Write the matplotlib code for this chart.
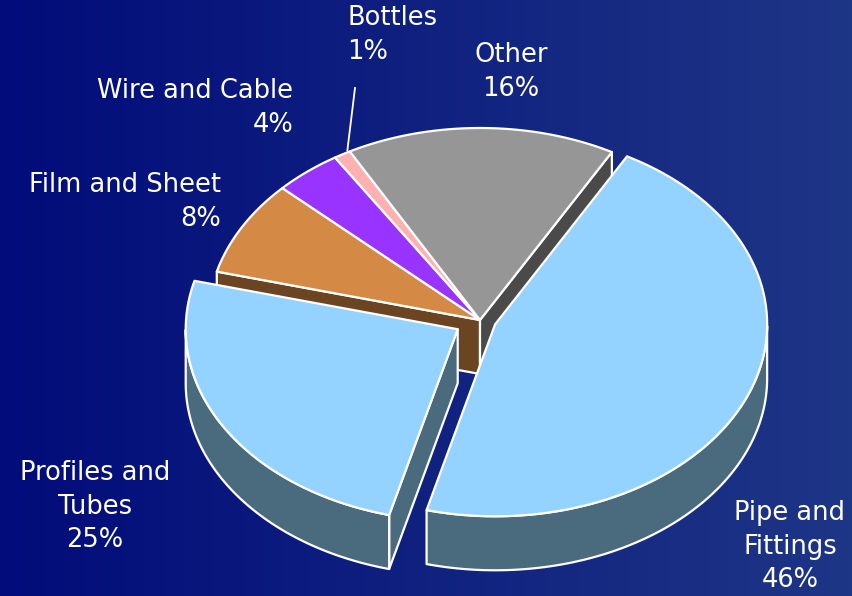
import numpy as np
import matplotlib.pyplot as plt
from matplotlib.patches import Polygon

# PVC end uses, share of consumption
labels = ["Pipe and\nFittings", "Profiles and\nTubes", "Film and Sheet",
          "Wire and Cable", "Bottles", "Other"]
shares = [46, 25, 8, 4, 1, 16]
top_colors = ["#94d2ff", "#94d2ff", "#d48a45", "#9933ff", "#ffb0b0", "#969696"]
side_colors = ["#4a6a7e", "#4a6a7e", "#6b4522", "#5a1f99", "#996a6a", "#4a4a4a"]
explode = [0.06, 0.095, 0, 0, 0, 0]

# label anchors: x, top y, alignment
label_pos = [(790, 500, "center"), (95, 460, "center"), (221, 172, "right"),
             (293, 78, "right"), (347, 5, "left"), (511, 42, "center")]

W, H = 852, 596
cx, cy = 480, 320      # pie centre (pixels)
rx, ry = 272, 192      # ellipse radii of the top face
depth = 54
start_angle = 61
edge_kw = dict(edgecolor="white", linewidth=1.6, joinstyle="round")

fig = plt.figure(figsize=(W / 100, H / 100), dpi=100)
ax = fig.add_axes([0, 0, 1, 1])
ax.set_xlim(0, W)
ax.set_ylim(H, 0)
ax.axis("off")

# navy gradient background, darker on the left
left = np.array([2, 12, 122]) / 255
right = np.array([30, 54, 134]) / 255
t = np.linspace(0, 1, 256)
grad = (left[None, :] * (1 - t[:, None]) + right[None, :] * t[:, None])[None, :, :]
ax.imshow(grad, extent=[0, W, H, 0], aspect="auto", zorder=0)


def rim(c, ang):
    r = np.radians(ang)
    return np.column_stack([c[0] + rx * np.cos(r), c[1] - ry * np.sin(r)])


def down(pts):
    return pts + np.array([0, depth])


# slice angles, going clockwise from start_angle
bounds = start_angle - 3.6 * np.concatenate([[0], np.cumsum(shares)])
slices = []
for i in range(len(shares)):
    t1, t0 = bounds[i], bounds[i + 1]
    mid = np.radians((t0 + t1) / 2)
    c = np.array([cx + explode[i] * rx * np.cos(mid), cy - explode[i] * ry * np.sin(mid)])
    slices.append(dict(i=i, t1=t1, t0=t0, c=c, key=-np.sin(mid)))

z = [1]


def add(poly, color):
    ax.add_patch(Polygon(poly, closed=True, facecolor=color, zorder=z[0], **edge_kw))
    z[0] += 1


def draw_walls(s):
    i, n = s["i"], len(shares)
    c = s["c"]
    # radial walls facing the viewer, only where a neighbour is pulled out
    for ang, nb, normal in [(s["t1"], (i - 1) % n, s["t1"] + 90),
                            (s["t0"], (i + 1) % n, s["t0"] - 90)]:
        if np.sin(np.radians(normal)) < 0 and (explode[i] or explode[nb]):
            p = rim(c, [ang])[0]
            quad = np.array([c, p, p + [0, depth], c + [0, depth]])
            add(quad, side_colors[i])
    # curved outer wall on the front half
    ts = np.linspace(s["t0"], s["t1"], 300)
    front = np.sin(np.radians(ts)) <= 0
    if front.any():
        idx = np.where(front)[0]
        runs = np.split(idx, np.where(np.diff(idx) > 1)[0] + 1)
        for r in runs:
            arc = rim(c, ts[r])
            add(np.vstack([arc, down(arc)[::-1]]), side_colors[i])


def draw_top(s):
    ts = np.linspace(s["t1"], s["t0"], 200)
    add(np.vstack([s["c"], rim(s["c"], ts)]), top_colors[s["i"]])


still = [s for s in slices if not explode[s["i"]]]
moved = sorted([s for s in slices if explode[s["i"]]], key=lambda s: s["key"])
for s in still:
    draw_walls(s)
for s in still:
    draw_top(s)
for s in moved:
    draw_walls(s)
    draw_top(s)

# leader line for the small slice
b = slices[4]
tip = rim(b["c"], [(b["t0"] + b["t1"]) / 2])[0]
ax.plot([355, tip[0] + 5], [88, tip[1] - 4], color="white", lw=1.3, zorder=z[0])

for lab, v, (x, y, ha) in zip(labels, shares, label_pos):
    ax.text(x, y, f"{lab}\n{v}%", color="white", fontsize=18.5, family="DejaVu Sans",
            ha=ha, va="top", multialignment=ha, linespacing=1.38, zorder=z[0] + 1)

fig.savefig("out.png", dpi=100)
